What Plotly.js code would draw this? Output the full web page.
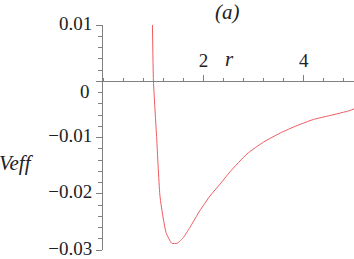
<!DOCTYPE html>
<html>
<head>
<meta charset="utf-8">
<script src="https://cdn.plot.ly/plotly-3.0.1.min.js"></script>
<style>
  html, body { margin: 0; padding: 0; background: #fff; }
  #chart { width: 354px; height: 259px; }
</style>
</head>
<body>
<div id="chart"></div>
<script>
// radius r and effective potential Veff
const r_values = [0.985, 1.005, 1.07, 1.137, 1.256, 1.37, 1.48, 1.535, 1.60, 1.73, 1.93, 2.13, 2.33, 2.53, 2.87, 3.20, 3.53, 3.86, 4.19, 4.52, 4.92, 5.0];
const veff_values = [0.01, 0, -0.0102, -0.0206, -0.0269, -0.0288, -0.0288, -0.0284, -0.0278, -0.0260, -0.0230, -0.0204, -0.0183, -0.0161, -0.0129, -0.0108, -0.0092, -0.0079, -0.0068, -0.0061, -0.0052, -0.0049];

const x_tick_vals = [2, 4];
const x_tick_text = ["2", "4"];
const y_tick_vals = [-0.03, -0.02, -0.01, 0, 0.01];
const y_tick_text = ["\u22120.03", "\u22120.02", "\u22120.01", "", "0.01"];

const serif = "Liberation Serif";
const axis_grey = "#808080";

const curve = {
    x: r_values,
    y: veff_values,
    mode: "lines",
    type: "scatter",
    line: { color: "rgb(240,90,95)", width: 1, shape: "spline", smoothing: 0.5 },
    hoverinfo: "skip",
};

const layout = {
    width: 354,
    height: 259,
    margin: { l: 103, r: 0, t: 25, b: 9 },
    paper_bgcolor: "#fff",
    plot_bgcolor: "#fff",
    showlegend: false,
    font: { family: serif, size: 18, color: "#222" },
    xaxis: {
        range: [0, 5],
        anchor: "free",
        position: 0.75,
        side: "top",
        showgrid: false,
        zeroline: false,
        showline: true,
        linecolor: axis_grey,
        linewidth: 1,
        ticks: "outside",
        ticklen: 6,
        tickcolor: axis_grey,
        tickmode: "array",
        tickvals: x_tick_vals,
        ticktext: x_tick_text,
        ticklabelstandoff: 1,
        tickfont: { family: serif, size: 19, color: "#222" },
        minor: { dtick: 0.4, tick0: 0, ticks: "outside", ticklen: 3, tickcolor: axis_grey, showgrid: false },
    },
    yaxis: {
        range: [-0.03, 0.01],
        showgrid: false,
        zeroline: false,
        showline: true,
        linecolor: axis_grey,
        linewidth: 1,
        ticks: "outside",
        ticklen: 6,
        tickcolor: axis_grey,
        tickmode: "array",
        tickvals: y_tick_vals,
        ticktext: y_tick_text,
        ticklabelshift: -2,
        ticklabeloverflow: "allow",
        tickfont: { family: serif, size: 19, color: "#222" },
        minor: { dtick: 0.002, tick0: 0, ticks: "outside", ticklen: 4, tickcolor: axis_grey, showgrid: false },
    },
    annotations: [
        { text: "0", xref: "paper", yref: "paper", x: -0.042, y: 0.705, xanchor: "right", yanchor: "middle", showarrow: false, font: { family: serif, size: 19, color: "#222" } },
        { text: "<i>(a)</i>", xref: "paper", yref: "paper", x: 0.498, y: 1.058, xanchor: "center", yanchor: "middle", showarrow: false, font: { family: serif, size: 21, color: "#222" } },
        { text: "<i>r</i>", xref: "paper", yref: "paper", x: 0.502, y: 0.849, xanchor: "center", yanchor: "middle", showarrow: false, font: { family: serif, size: 21, color: "#222" } },
        { text: "<i>Veff</i>", xref: "paper", yref: "paper", x: -0.265, y: 0.387, xanchor: "right", yanchor: "middle", showarrow: false, font: { family: serif, size: 21, color: "#222" } },
    ],
};

Plotly.newPlot("chart", [curve], layout, { staticPlot: true });
</script>
</body>
</html>
